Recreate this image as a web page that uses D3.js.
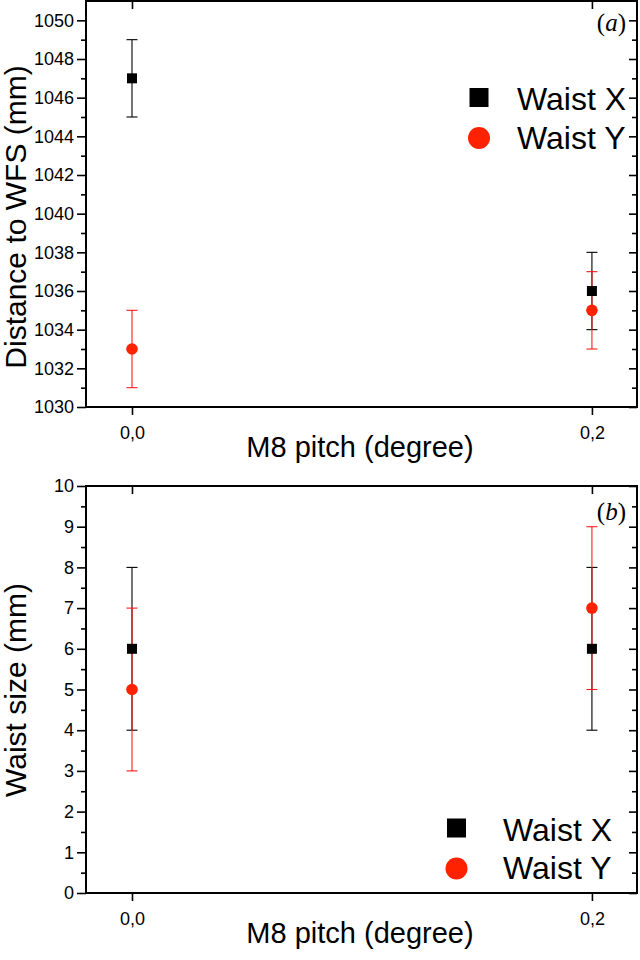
<!DOCTYPE html>
<html><head><meta charset="utf-8">
<script src="https://cdn.jsdelivr.net/npm/d3@7/dist/d3.min.js"></script>
<style>
html,body{margin:0;padding:0;background:#fff;}
svg{display:block;}
</style>
</head><body>
<svg id="chart" width="640" height="960"></svg>
<script>
// ---- data ----
const categories = [0.0, 0.2];
const xTickLabels = ["0,0", "0,2"];
const seriesNames = ["Waist X", "Waist Y"];

const distX = [1047, 1036];
const distXErr = [2, 2];
const distY = [1033, 1035];
const distYErr = [2, 2];

const sizeX = [6, 6];
const sizeXErr = [2, 2];
const sizeY = [5, 7];
const sizeYErr = [2, 2];

const distTicks = [1030, 1032, 1034, 1036, 1038, 1040, 1042, 1044, 1046, 1048, 1050];
const distMinor = [1031, 1033, 1035, 1037, 1039, 1041, 1043, 1045, 1047, 1049];
const sizeTicks = [0, 1, 2, 3, 4, 5, 6, 7, 8, 9, 10];
const sizeMinor = [0.5, 1.5, 2.5, 3.5, 4.5, 5.5, 6.5, 7.5, 8.5, 9.5];

const xTitle = "M8 pitch (degree)";
// ---- layout ----
const svg = d3.select("#chart");
const RED = "#ff2200";
const SANS = "'Liberation Sans', Arial, sans-serif";
const left = 86, right = 637;
const x = d3.scaleLinear().domain([-0.02, 0.2196]).range([left, right]);

function panel(cfg) {
  const g = svg.append("g");
  const y = d3.scaleLinear().domain(cfg.domain).range([cfg.bottom, cfg.top]);

  // left axis major
  const la = g.append("g").attr("transform", `translate(${left},0)`)
    .call(d3.axisLeft(y).tickValues(cfg.ticks).tickSize(9).tickPadding(3).tickFormat(d3.format("d")));
  la.select(".domain").remove();
  la.selectAll("line").attr("stroke-width", 1.6);
  la.selectAll("text").attr("font-size", 18).attr("font-family", SANS).attr("fill", "#000");
  const lm = g.append("g").attr("transform", `translate(${left},0)`)
    .call(d3.axisLeft(y).tickValues(cfg.minor).tickSize(5).tickFormat(""));
  lm.select(".domain").remove();
  lm.selectAll("line").attr("stroke-width", 1.6);

  // right axis (inward ticks)
  const ra = g.append("g").attr("transform", `translate(${right},0)`)
    .call(d3.axisRight(y).tickValues(cfg.ticks).tickSize(-8).tickFormat(""));
  ra.select(".domain").remove();
  ra.selectAll("line").attr("stroke-width", 1.6);
  const rm = g.append("g").attr("transform", `translate(${right},0)`)
    .call(d3.axisRight(y).tickValues(cfg.minor).tickSize(-5).tickFormat(""));
  rm.select(".domain").remove();
  rm.selectAll("line").attr("stroke-width", 1.6);

  // bottom axis
  const ba = g.append("g").attr("transform", `translate(0,${cfg.bottom})`)
    .call(d3.axisBottom(x).tickValues(categories).tickSize(8).tickPadding(11)
      .tickFormat((d, i) => xTickLabels[i]));
  ba.select(".domain").remove();
  ba.selectAll("line").attr("stroke-width", 1.6);
  ba.selectAll("text").attr("font-size", 18).attr("font-family", SANS).attr("fill", "#000");

  // top axis (inward ticks)
  const ta = g.append("g").attr("transform", `translate(0,${cfg.top})`)
    .call(d3.axisTop(x).tickValues(categories).tickSize(-8).tickFormat(""));
  ta.select(".domain").remove();
  ta.selectAll("line").attr("stroke-width", 1.6);

  // frame
  g.append("rect").attr("x", left).attr("y", cfg.top)
    .attr("width", right - left).attr("height", cfg.bottom - cfg.top)
    .attr("fill", "none").attr("stroke", "#000").attr("stroke-width", 2);

  // error bars
  function errbars(vals, errs, color) {
    const eg = g.append("g").attr("stroke", color).attr("stroke-width", 1.1);
    categories.forEach((c, i) => {
      const cx = x(c), y1 = y(vals[i] + errs[i]), y0 = y(vals[i] - errs[i]);
      eg.append("line").attr("x1", cx).attr("x2", cx).attr("y1", y1).attr("y2", y0);
      eg.append("line").attr("x1", cx - 5.5).attr("x2", cx + 5.5).attr("y1", y1).attr("y2", y1);
      eg.append("line").attr("x1", cx - 5.5).attr("x2", cx + 5.5).attr("y1", y0).attr("y2", y0);
    });
  }
  errbars(cfg.xv, cfg.xe, "#000");
  errbars(cfg.yv, cfg.ye, "#ff1a1a");

  g.append("g").selectAll("rect").data(categories).join("rect")
    .attr("x", (d) => x(d) - 5).attr("y", (d, i) => y(cfg.xv[i]) - 5)
    .attr("width", 10).attr("height", 10).attr("fill", "#000");
  g.append("g").selectAll("circle").data(categories).join("circle")
    .attr("cx", (d) => x(d)).attr("cy", (d, i) => y(cfg.yv[i]))
    .attr("r", 5.8).attr("fill", RED);

  // legend
  const lg = g.append("g");
  lg.append("rect").attr("x", cfg.legX - 9.5).attr("y", cfg.legY - 9.5)
    .attr("width", 19).attr("height", 19).attr("fill", "#000");
  lg.append("circle").attr("cx", cfg.legX).attr("cy", cfg.legY + 40.5).attr("r", 11).attr("fill", RED);
  lg.append("text").attr("x", cfg.legTX).attr("y", cfg.legY + 12.5)
    .attr("font-size", 32).attr("font-family", SANS).text(seriesNames[0]);
  lg.append("text").attr("x", cfg.legTX).attr("y", cfg.legY + 51)
    .attr("font-size", 32).attr("font-family", SANS).text(seriesNames[1]);

  // panel label
  const pl = g.append("text").attr("x", 626).attr("y", cfg.labY).attr("text-anchor", "end")
    .attr("font-size", 25).attr("font-family", "'Liberation Serif', 'Times New Roman', serif");
  pl.append("tspan").text("(");
  pl.append("tspan").attr("font-style", "italic").text(cfg.label);
  pl.append("tspan").text(")");

  // axis titles
  g.append("text").attr("transform", `translate(26,${cfg.ytY}) rotate(-90)`)
    .attr("text-anchor", "middle").attr("font-size", 30).attr("font-family", SANS)
    .text(cfg.yTitle);
  g.append("text").attr("x", 360).attr("y", cfg.bottom + 50)
    .attr("text-anchor", "middle").attr("font-size", 29).attr("font-family", SANS)
    .text(xTitle);
}

panel({
  top: 1, bottom: 407, domain: [1030, 1051.0], ticks: distTicks, minor: distMinor,
  xv: distX, xe: distXErr, yv: distY, ye: distYErr,
  legX: 479, legY: 97.5, legTX: 517, label: "a", labY: 31,
  yTitle: "Distance to WFS (mm)", ytY: 217
});
panel({
  top: 486, bottom: 893, domain: [0, 10], ticks: sizeTicks, minor: sizeMinor,
  xv: sizeX, xe: sizeXErr, yv: sizeY, ye: sizeYErr,
  legX: 456.5, legY: 828, legTX: 503, label: "b", labY: 520,
  yTitle: "Waist size (mm)", ytY: 690
});
</script>
</body></html>
